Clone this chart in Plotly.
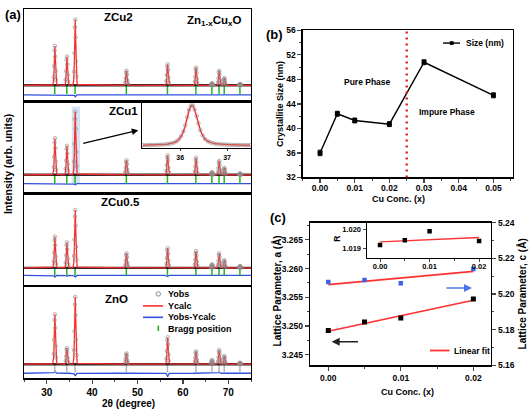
import plotly.graph_objects as go

# ---------------- data ----------------
two_theta_range = [25, 75]
bragg_pos = [31.77, 34.42, 36.25, 47.54, 56.60, 62.86, 66.38, 67.96, 69.10, 72.56]
samples = ["ZnO", "ZCu0.5", "ZCu1", "ZCu2"]
peak_int_zno = [74, 24, 100, 16, 40, 19, 6, 21, 12, 2]
peak_int_zcu05 = [54, 44, 100, 25, 34, 29, 6, 25, 13, 3]
peak_int_zcu1 = [58, 46, 100, 23, 31, 27, 4, 22, 11, 2]
peak_int_zcu2 = [60, 44, 100, 22, 32, 27, 3, 22, 11, 2]
diff_zno = [3, 1, -4, 1, -5, 1, 0, 2, 0, 0]
diff_zcu05 = [-3, -2, -3, -1, -2, -1, 0, -1, 0, 0]
diff_zcu1 = [-1, -1, -2, 0, -1, 0, 0, 0, 0, 0]
diff_zcu2 = [-1, -1, -3, 0, -1, -1, 0, -1, 0, 0]

# ZCu1 inset: (101) reflection profile
inset_2theta = [35.20, 35.26, 35.32, 35.38, 35.44, 35.50, 35.56, 35.62, 35.68, 35.74, 35.80,
                35.86, 35.92, 35.97, 36.02, 36.07, 36.11, 36.15, 36.19, 36.23, 36.27, 36.31,
                36.35, 36.39, 36.43, 36.48, 36.53, 36.59, 36.65, 36.71, 36.77, 36.83, 36.89,
                36.95, 37.01, 37.07, 37.13, 37.19, 37.25, 37.31, 37.37, 37.43, 37.49]
inset_int = [1.0, 1.1, 1.2, 1.3, 1.5, 1.7, 2.0, 2.4, 3.0, 3.8, 5.0,
             7.0, 10, 15, 23, 35, 50, 70, 88, 99, 99, 89,
             73, 55, 38, 25, 16, 10.5, 7.5, 5.5, 4.2, 3.4, 2.8,
             2.4, 2.1, 1.9, 1.7, 1.5, 1.4, 1.3, 1.2, 1.1, 1.0]

# (b) crystallite size
cu_conc_b = [0.0, 0.005, 0.01, 0.02, 0.03, 0.05]
size_nm = [36.0, 42.4, 41.3, 40.7, 50.8, 45.4]
size_err = [0.45, 0.4, 0.4, 0.4, 0.4, 0.4]
phase_boundary = 0.025

# (c) lattice parameters
cu_conc_c = [0.0, 0.005, 0.01, 0.02]
lat_a = [3.2492, 3.2507, 3.2514, 3.2547]
lat_c = [5.2068, 5.2079, 5.2061, 5.2141]
fit_x = [0.0, 0.02]
fit_a = [3.2491, 3.2545]
fit_c = [5.2053, 5.2127]
ratio_R = [1.01917, 1.01943, 1.01990, 1.01938]
fit_R = [1.01934, 1.01957]

# ---------------- helpers ----------------
W, H = 529, 417
FONT = "Liberation Sans"


def px(x):
    return x / W


def py(y):
    return 1 - y / H


def TF(s):
    return dict(family=FONT, size=s, color="black", weight="bold")


BASE = dict(showgrid=False, zeroline=False, showline=True, linecolor="black",
            linewidth=1.3, mirror=True, ticks="", showticklabels=False)


def axis(dom, rng, **kw):
    d = dict(BASE)
    d.update(domain=dom, range=rng)
    d.update(kw)
    return d


fig = go.Figure()
layout = dict(width=W, height=H, margin=dict(l=0, r=0, t=0, b=0), autosize=False,
              paper_bgcolor="white", plot_bgcolor="white", showlegend=False,
              hovermode=False)

# peak profile template from the inset
ic = inset_2theta[inset_int.index(max(inset_int))]
core = [(t - ic, v) for t, v in zip(inset_2theta, inset_int) if abs(t - ic) <= 0.55]
vmin = min(v for _, v in core)
vmax = max(v for _, v in core)
tmpl = [(o, (v - vmin) / (vmax - vmin)) for o, v in core]


def profile(heights, level=0.0):
    xs, ys = [two_theta_range[0]], [level]
    for p, h in zip(bragg_pos, heights):
        for o, f in tmpl:
            xs.append(p + o)
            ys.append(level + h * f)
    xs.append(two_theta_range[1])
    ys.append(level)
    return xs, ys


def obs_points(heights):
    xs, ys = [], []
    for p, h in zip(bragg_pos, heights):
        for i, (o, f) in enumerate(tmpl):
            if f > 0.12 and i % 2 == 0:
                xs.append(p + o)
                ys.append(h * f)
    return xs, ys


panel_a = {
    "ZnO": dict(k=1, top=288, bot=382.5, yr=[-21, 116], bragg=-6, diff=-13.5,
                bc="#b5b5b5", h=peak_int_zno, d=diff_zno),
    "ZCu0.5": dict(k=2, top=193, bot=288, yr=[-31.5, 128.7], bragg=-6.5, diff=-13,
                   bc="#22b322", h=peak_int_zcu05, d=diff_zcu05),
    "ZCu1": dict(k=3, top=99, bot=193, yr=[-29.4, 115.9], bragg=-7.7, diff=-13.9,
                 bc="#22b322", h=peak_int_zcu1, d=diff_zcu1),
    "ZCu2": dict(k=4, top=4, bot=99, yr=[-24.8, 116.3], bragg=-7, diff=-14.4,
                 bc="#22b322", h=peak_int_zcu2, d=diff_zcu2),
}
AX_L, AX_R = 24, 251
for name in samples:
    c = panel_a[name]
    k = c["k"]
    xr = "x" if k == 1 else f"x{k}"
    yr = "y" if k == 1 else f"y{k}"
    xk = "xaxis" if k == 1 else f"xaxis{k}"
    yk = "yaxis" if k == 1 else f"yaxis{k}"
    xa = axis([px(AX_L), px(AX_R)], two_theta_range, anchor=yr)
    if k == 1:
        xa.update(ticks="outside", ticklen=4, tickwidth=1.2, showticklabels=True,
                  dtick=10, tick0=0, tickfont=TF(10),
                  minor=dict(ticks="outside", dtick=5, ticklen=2, tickwidth=1))
    layout[xk] = xa
    layout[yk] = axis([py(c["bot"]), py(c["top"])], c["yr"], anchor=xr)

    # difference curve
    dx, dy = profile(c["d"], c["diff"])
    fig.add_trace(go.Scatter(x=dx, y=dy, mode="lines", xaxis=xr, yaxis=yr,
                             line=dict(color="#3050e0", width=1.3)))
    # bragg ticks
    fig.add_trace(go.Scatter(x=bragg_pos, y=[c["bragg"]] * len(bragg_pos), mode="markers",
                             xaxis=xr, yaxis=yr,
                             marker=dict(symbol="line-ns", size=6,
                                         line=dict(color=c["bc"], width=1.5))))
    # observed background (dense points appear as a dark band)
    fig.add_trace(go.Scatter(x=two_theta_range, y=[0, 0], mode="lines", xaxis=xr, yaxis=yr,
                             line=dict(color="#2a2a2a", width=2.4)))
    px_, py_ = profile(c["h"])
    fig.add_trace(go.Scatter(x=px_, y=py_, mode="lines", xaxis=xr, yaxis=yr,
                             line=dict(color="#ff2a2a", width=1.3)))
    mx, my = obs_points(c["h"])
    fig.add_trace(go.Scatter(x=mx, y=my, mode="markers", xaxis=xr, yaxis=yr,
                             marker=dict(symbol="circle-open", size=3.5, color="#8f8f8f",
                                         line=dict(width=0.7))))

# ZCu1 inset (x8/y8)
layout["xaxis8"] = axis([px(141.7), px(251)], [35.18, 37.51], anchor="y8",
                        ticks="outside", ticklen=2, tickwidth=1, showticklabels=True,
                        tickvals=[36, 37], tickfont=TF(7), linewidth=1.2)
layout["yaxis8"] = axis([py(146.7), py(100)], [-6.5, 106.5], anchor="x8", linewidth=1.2)
fig.add_trace(go.Scatter(x=inset_2theta, y=inset_int, mode="lines", xaxis="x8", yaxis="y8",
                         line=dict(color="#ff2a2a", width=1.5)))
fig.add_trace(go.Scatter(x=inset_2theta, y=inset_int, mode="markers", xaxis="x8", yaxis="y8",
                         marker=dict(symbol="circle-open", size=3.5, color="#999999",
                                     line=dict(width=0.8))))

# ---------------- panel (b) ----------------
layout["xaxis5"] = axis([px(302.7), px(512.5)], [-0.005, 0.0555], anchor="y5",
                        ticks="outside", ticklen=4, tickwidth=1.2, showticklabels=True,
                        tickvals=[0, 0.01, 0.02, 0.03, 0.04, 0.05], tickformat=".2f",
                        tickfont=TF(8.5), ticklabelstandoff=-2,
                        minor=dict(ticks="outside", dtick=0.005, tick0=0, ticklen=2, tickwidth=1))
layout["yaxis5"] = axis([py(176.7), py(26)], [32, 56], anchor="x5",
                        ticks="outside", ticklen=4, tickwidth=1.2, showticklabels=True,
                        dtick=4, tick0=32, tickfont=TF(8.5),
                        minor=dict(ticks="outside", dtick=2, ticklen=2, tickwidth=1))
fig.add_trace(go.Scatter(x=cu_conc_b, y=size_nm, mode="lines+markers", xaxis="x5", yaxis="y5",
                         line=dict(color="black", width=1.4),
                         marker=dict(symbol="square", size=5, color="black"),
                         error_y=dict(type="data", array=size_err, visible=True,
                                      color="black", thickness=1, width=2)))

# ---------------- panel (c) ----------------
layout["xaxis6"] = axis([px(310), px(491)], [-0.00252, 0.02243], anchor="y6",
                        ticks="outside", ticklen=4, tickwidth=1.2, showticklabels=True,
                        tickvals=[0, 0.01, 0.02], tickformat=".2f", tickfont=TF(8.5),
                        minor=dict(ticks="outside", dtick=0.005, tick0=0, ticklen=2, tickwidth=1))
layout["yaxis6"] = axis([py(369.3), py(223)], [3.24313, 3.26800], anchor="x6", mirror=False,
                        ticks="outside", ticklen=4, tickwidth=1.2, showticklabels=True,
                        dtick=0.005, tick0=3.245, tickformat=".3f", tickfont=TF(8.5),
                        minor=dict(ticks="outside", dtick=0.0025, ticklen=2, tickwidth=1))
layout["yaxis9"] = dict(BASE, overlaying="y6", side="right", anchor="x6", range=[5.16, 5.24],
                        mirror=False, ticks="outside", ticklen=4, tickwidth=1.2,
                        showticklabels=True, dtick=0.02, tick0=5.16, tickformat=".2f",
                        tickfont=TF(8.5),
                        minor=dict(ticks="outside", dtick=0.01, ticklen=2, tickwidth=1))
fig.add_trace(go.Scatter(x=fit_x, y=fit_a, mode="lines", xaxis="x6", yaxis="y6",
                         line=dict(color="#ff3030", width=1.6)))
fig.add_trace(go.Scatter(x=cu_conc_c, y=lat_a, mode="markers", xaxis="x6", yaxis="y6",
                         marker=dict(symbol="square", size=5, color="black")))
fig.add_trace(go.Scatter(x=fit_x, y=fit_c, mode="lines", xaxis="x6", yaxis="y9",
                         line=dict(color="#ff3030", width=1.6)))
fig.add_trace(go.Scatter(x=cu_conc_c, y=lat_c, mode="markers", xaxis="x6", yaxis="y9",
                         marker=dict(symbol="square", size=4.5, color="#3a63e8")))

# inset (c): x7/y7
layout["xaxis7"] = axis([px(366.7), px(491)], [-0.00269, 0.0224], anchor="y7",
                        ticks="outside", ticklen=3, tickwidth=1, showticklabels=True,
                        tickvals=[0, 0.01, 0.02], tickformat=".2f", tickfont=TF(7.5),
                        linewidth=1.2, ticklabelstandoff=-2,
                        minor=dict(ticks="outside", dtick=0.005, tick0=0, ticklen=1.5, tickwidth=1))
layout["yaxis7"] = axis([py(259.3), py(223)], [1.01848, 1.02036], anchor="x7",
                        ticks="outside", ticklen=3, tickwidth=1, showticklabels=True,
                        tickvals=[1.019, 1.020], tickformat=".3f", tickfont=TF(7.5),
                        linewidth=1.2)
fig.add_trace(go.Scatter(x=fit_x, y=fit_R, mode="lines", xaxis="x7", yaxis="y7",
                         line=dict(color="#ff3030", width=1.4)))
fig.add_trace(go.Scatter(x=cu_conc_c, y=ratio_R, mode="markers", xaxis="x7", yaxis="y7",
                         marker=dict(symbol="square", size=4.5, color="black")))

# ---------------- shapes ----------------
shapes = []
shapes.append(dict(type="rect", xref="paper", yref="paper", x0=px(71.7), x1=px(80),
                   y0=py(183), y1=py(104), fillcolor="rgba(160,195,230,0.45)",
                   line=dict(width=0), layer="below"))
shapes.append(dict(type="line", xref="x5", yref="y5 domain", x0=phase_boundary,
                   x1=phase_boundary, y0=0, y1=1,
                   line=dict(color="#e02020", width=2.4, dash="2px,4px")))
shapes.append(dict(type="circle", xref="paper", yref="paper", x0=px(156), x1=px(160.5),
                   y0=py(298.3), y1=py(293.8), line=dict(color="#8a8a8a", width=1)))
shapes.append(dict(type="line", xref="paper", yref="paper", x0=px(143), x1=px(163),
                   y0=py(308.3), y1=py(308.3), line=dict(color="#ff2a2a", width=1.6)))
shapes.append(dict(type="line", xref="paper", yref="paper", x0=px(143), x1=px(163),
                   y0=py(320), y1=py(320), line=dict(color="#3050e0", width=1.6)))
shapes.append(dict(type="line", xref="paper", yref="paper", x0=px(158.3), x1=px(158.3),
                   y0=py(334), y1=py(328.5), line=dict(color="#22b322", width=1.6)))
shapes.append(dict(type="line", xref="paper", yref="paper", x0=px(443), x1=px(460),
                   y0=py(39), y1=py(39), line=dict(color="black", width=1.4)))
shapes.append(dict(type="rect", xref="paper", yref="paper", x0=px(449.8), x1=px(453.6),
                   y0=py(40.9), y1=py(37.1), fillcolor="black", line=dict(width=0)))
shapes.append(dict(type="line", xref="paper", yref="paper", x0=px(430), x1=px(449.5),
                   y0=py(354), y1=py(354), line=dict(color="#ff3030", width=1.8)))
layout["shapes"] = shapes


def ann(text, x, y, size, xa="center", ya="middle", angle=0):
    return dict(text=f"<b>{text}</b>", x=px(x), y=py(y), xref="paper", yref="paper",
                showarrow=False, font=dict(family=FONT, size=size, color="black"),
                xanchor=xa, yanchor=ya, textangle=angle)


def arrow(x_head, y_head, x_tail, y_tail, color, width):
    return dict(x=px(x_head), y=py(y_head), xref="paper", yref="paper",
                axref="pixel", ayref="pixel", ax=x_tail - x_head, ay=y_tail - y_head,
                showarrow=True, text="", arrowhead=2, arrowsize=1, arrowwidth=width,
                arrowcolor=color)


anns = [
    ann("(a)", 13, 10, 13),
    ann("ZCu2", 118, 12, 11.5),
    ann("Zn<sub>1-x</sub>Cu<sub>x</sub>O", 214, 16, 11.5),
    ann("ZCu1", 123, 108.5, 11.5),
    ann("ZCu0.5", 120, 202, 11.5),
    ann("ZnO", 116, 301, 11.5),
    ann("Yobs", 165.7, 296, 9, xa="left"),
    ann("Ycalc", 165.7, 308.3, 9, xa="left"),
    ann("Yobs-Ycalc", 165.7, 320, 9, xa="left"),
    ann("Bragg position", 165.7, 331.5, 9, xa="left"),
    ann("2θ (degree)", 128, 408, 10),
    ann("Intensity (arb. units)", 8, 163, 10.5, angle=-90),
    ann("(b)", 274.5, 30, 13),
    ann("Crystallite Size (nm)", 279.5, 102, 9, angle=-90),
    ann("Cu Conc. (x)", 398, 198.5, 9),
    ann("Pure Phase", 367.5, 79, 8.5),
    ann("Impure Phase", 446.5, 109.5, 8.5),
    ann("Size (nm)", 463.5, 39, 8.5, xa="left"),
    ann("(c)", 277.5, 218, 13),
    ann("Lattice Parameter, a (Å)", 276.5, 293, 10, angle=-90),
    ann("Lattice Parameter, c (Å)", 521.5, 296, 10, angle=-90),
    ann("Cu Conc. (x)", 407, 396, 9),
    ann("R", 337.5, 240, 8.5, angle=-90),
    ann("Linear fit", 451.5, 354, 8.5, xa="left"),
    arrow(138.3, 128.3, 81.7, 141.7, "black", 1.3),
    arrow(331.7, 345, 359.5, 345, "#222222", 1.6),
    arrow(472, 290, 445, 290, "#4a78e8", 1.6),
]
layout["annotations"] = anns

fig.update_layout(**layout)
fig.write_html("out.html", config={"displayModeBar": False, "staticPlot": True},
               post_script="document.body.style.margin='0px';"
                           "document.body.style.overflow='hidden';")
